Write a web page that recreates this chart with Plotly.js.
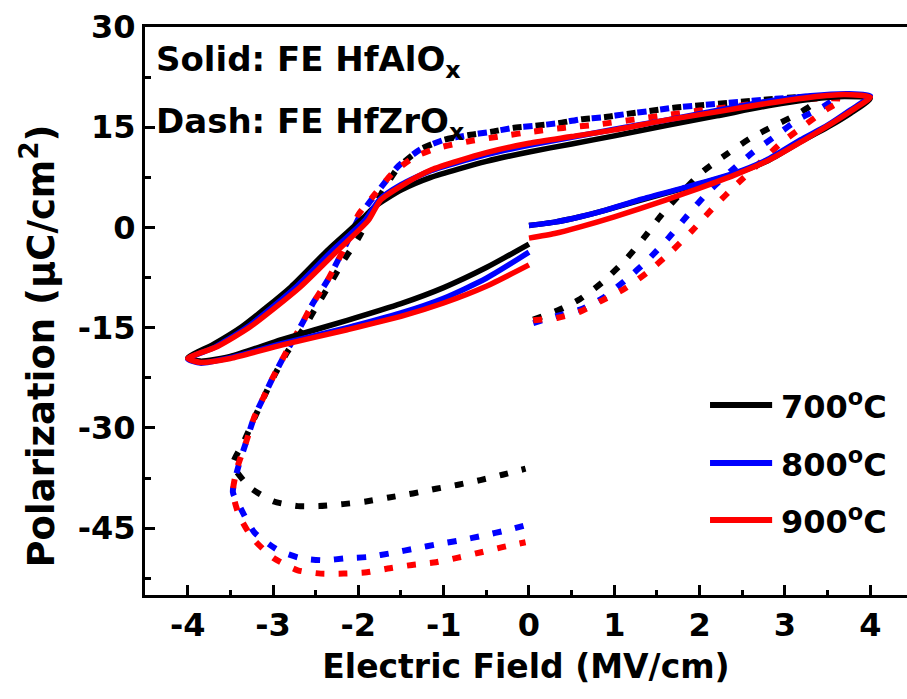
<!DOCTYPE html>
<html>
<head>
<meta charset="utf-8">
<script src="https://cdn.plot.ly/plotly-3.0.1.min.js"></script>
<style>html,body{margin:0;padding:0;background:#fff;}#chart{width:907px;height:699px;}</style>
</head>
<body>
<div id="chart"></div>
<script>
// ---- Data ----
const seriesNames = ["700<sup>o</sup>C", "800<sup>o</sup>C", "900<sup>o</sup>C"];
const seriesColors = ["#000000", "#0000ff", "#ff0000"];

// Solid: FE HfAlOx
const E_solid_700 = [0,0.3,0.6,0.9,1.28,1.8,2.4,2.8,3.18,3.5,3.77,4.0,3.7,3.3,2.8,2.2,1.62,1.0,0.5,0,-0.5,-1.15,-1.5,-1.8,-1.97,-2.36,-2.79,-3.37,-3.7,-4.0,-3.85,-3.5,-2.9,-2.13,-1.5,-1.0,-0.5,0];
const P_solid_700 = [0.3,0.8,1.6,2.6,4.0,5.8,8.0,10.0,12.8,15.0,17.1,19.3,19.6,19.2,18.2,16.7,15.3,13.7,12.5,11.3,9.9,7.5,5.6,3.2,1.1,-3.4,-8.9,-14.9,-17.5,-19.5,-20.0,-19.3,-16.8,-13.9,-11.4,-9.0,-6.0,-2.5];

const E_solid_800 = [0,0.3,0.6,0.9,1.28,1.8,2.4,2.8,3.18,3.5,3.77,4.0,3.75,3.3,2.8,2.2,1.62,1.0,0.5,0,-0.5,-1.15,-1.5,-1.75,-1.92,-2.3,-2.73,-3.3,-3.68,-4.0,-3.85,-3.5,-2.9,-2.13,-1.5,-1.0,-0.5,0];
const P_solid_800 = [0.3,0.8,1.6,2.6,4.1,5.9,8.1,10.2,13.1,15.3,17.6,19.7,20.0,19.7,18.9,17.5,16.1,14.7,13.5,12.3,10.9,8.5,6.4,4.2,1.1,-3.4,-8.9,-14.9,-17.9,-19.7,-20.3,-19.5,-17.4,-15.0,-12.8,-10.6,-7.6,-3.7];

const E_solid_900 = [0,0.3,0.6,1.0,1.6,2.0,2.4,2.8,3.2,3.5,3.77,4.0,3.7,3.3,2.8,2.2,1.62,1.0,0.5,0,-0.5,-1.15,-1.5,-1.74,-1.88,-2.24,-2.68,-3.27,-3.65,-4.0,-3.85,-3.5,-2.9,-2.13,-1.5,-1.0,-0.5,0];
const P_solid_900 = [-1.6,-0.9,0.1,1.6,4.1,5.9,7.8,10.0,12.9,15.2,17.4,19.5,19.9,19.5,18.6,17.3,16.1,14.6,13.6,12.6,11.2,8.6,6.2,4.1,1.1,-3.4,-8.9,-14.9,-17.8,-19.6,-20.2,-19.6,-17.6,-15.3,-13.3,-11.3,-8.8,-5.6];

// Dash: FE HfZrOx
const E_dash_700 = [0.05,0.34,0.6,0.86,1.12,1.35,1.56,1.8,2.04,2.32,2.6,2.87,3.12,3.3,3.4,3.03,2.75,2.48,2.21,1.93,1.68,1.4,1.15,0.88,0.61,0.34,0.06,-0.19,-0.45,-0.72,-1.0,-1.27,-1.53,-1.72,-1.86,-2.0,-2.17,-2.32,-2.48,-2.64,-2.83,-2.97,-3.1,-3.22,-3.35,-3.47,-3.26,-2.99,-2.71,-2.46,-2.18,-1.91,-1.64,-1.36,-1.09,-0.83,-0.57,-0.31,-0.04];
const P_dash_700 = [-13.8,-12.4,-10.7,-8.2,-5.0,-1.5,2.0,5.4,8.4,11.0,13.4,15.2,16.8,18.2,19.5,19.4,19.1,18.8,18.5,18.2,17.9,17.4,17.0,16.5,16.2,15.6,15.2,14.9,14.3,13.8,13.1,11.7,9.0,5.3,1.8,-1.6,-4.9,-8.2,-11.6,-15.1,-18.6,-21.8,-25.2,-28.6,-32.3,-35.5,-39.0,-41.0,-41.7,-41.7,-41.4,-41.0,-40.4,-39.8,-39.1,-38.5,-37.8,-37.0,-36.1];

const E_dash_800 = [0.05,0.34,0.6,0.86,1.13,1.39,1.64,1.87,2.1,2.37,2.63,2.9,3.16,3.44,3.6,3.3,3.03,2.75,2.48,2.21,1.93,1.68,1.4,1.15,0.88,0.61,0.34,0.06,-0.18,-0.45,-0.72,-1.0,-1.27,-1.53,-1.74,-1.97,-2.12,-2.36,-2.53,-2.68,-2.83,-3.0,-3.11,-3.22,-3.32,-3.4,-3.47,-3.38,-3.22,-2.94,-2.67,-2.4,-2.14,-1.88,-1.6,-1.32,-1.07,-0.8,-0.53,-0.26,-0.02];
const P_dash_800 = [-14.3,-13.2,-12.3,-10.6,-7.9,-4.9,-1.5,2.0,5.3,8.5,11.3,13.8,16.2,18.0,19.5,19.6,19.4,19.1,18.8,18.5,18.2,17.9,17.4,17.0,16.5,16.2,15.6,15.2,14.9,14.3,13.8,13.1,11.7,9.2,5.9,2.0,-1.9,-7.9,-11.3,-14.9,-18.3,-22.4,-25.4,-28.4,-32.3,-35.5,-39.6,-42.0,-45.6,-48.3,-49.5,-49.8,-49.5,-49.3,-48.7,-48.0,-47.4,-46.8,-46.1,-45.3,-44.5];

const E_dash_900 = [0.05,0.34,0.6,0.86,1.13,1.39,1.66,1.91,2.17,2.42,2.7,2.95,3.22,3.48,3.68,3.4,3.0,2.68,2.4,2.0,1.6,1.2,0.8,0.4,0.02,-0.3,-0.7,-1.07,-1.35,-1.6,-1.83,-2.0,-2.12,-2.36,-2.53,-2.68,-2.83,-3.0,-3.11,-3.22,-3.32,-3.42,-3.47,-3.4,-3.24,-2.99,-2.71,-2.44,-2.17,-1.9,-1.63,-1.37,-1.09,-0.83,-0.56,-0.3,-0.04];
const P_dash_900 = [-13.9,-13.5,-12.6,-10.9,-9.1,-6.7,-3.7,-0.5,3.1,6.3,9.6,12.6,15.2,17.6,19.2,19.3,18.9,18.6,18.1,17.5,16.8,16.1,15.4,14.9,14.3,13.7,12.9,11.9,10.5,8.1,4.6,1.9,-1.9,-7.9,-11.3,-14.9,-18.3,-22.4,-25.4,-28.4,-32.3,-36.0,-39.6,-43.0,-46.5,-49.5,-51.3,-51.8,-51.8,-51.6,-51.0,-50.5,-50.1,-49.4,-48.6,-47.8,-47.1];

// Axis ticks
const xTickVals = [-4,-3,-2,-1,0,1,2,3,4];
const xTickText = ["-4","-3","-2","-1","0","1","2","3","4"];
const xMinorVals = [-4.5,-3.5,-2.5,-1.5,-0.5,0.5,1.5,2.5,3.5];
const yTickVals = [-45,-30,-15,0,15,30];
const yTickText = ["-45","-30","-15","0","15","30"];
const yMinorVals = [-52.5,-37.5,-22.5,-7.5,7.5,22.5];

const xTitle = "Electric Field (MV/cm)";
const yTitle = "Polarization (μC/cm<sup>2</sup>)";
const noteLines = ["Solid: FE HfAlO<sub>x</sub>", "Dash: FE HfZrO<sub>x</sub>"];

// ---- Build traces ----
const FONT = "DejaVu Sans";
const dashE = [E_dash_700, E_dash_800, E_dash_900];
const dashP = [P_dash_700, P_dash_800, P_dash_900];
const solidE = [E_solid_700, E_solid_800, E_solid_900];
const solidP = [P_solid_700, P_solid_800, P_solid_900];

const traces = [];
for (let i = 0; i < 3; i++) {
  traces.push({
    x: dashE[i], y: dashP[i], type: "scatter", mode: "lines",
    name: seriesNames[i] + " HfZrO", showlegend: false, hoverinfo: "skip",
    line: {color: seriesColors[i], width: 6, dash: "9px,14px", shape: "spline", smoothing: 0.6}
  });
}
for (let i = 0; i < 3; i++) {
  traces.push({
    x: solidE[i], y: solidP[i], type: "scatter", mode: "lines",
    name: seriesNames[i], showlegend: false, hoverinfo: "skip",
    line: {color: seriesColors[i], width: 5.5, shape: "spline", smoothing: 0.6}
  });
}

// ---- Manual legend (long line samples as in the reference) ----
const legendY = [0.3345, 0.2324, 0.132];
const shapes = [];
const annotations = [];
for (let i = 0; i < 3; i++) {
  shapes.push({type: "line", xref: "paper", yref: "paper",
    x0: 0.7415, x1: 0.823, y0: legendY[i], y1: legendY[i],
    line: {color: seriesColors[i], width: 6}});
  annotations.push({xref: "paper", yref: "paper", x: 0.832, y: legendY[i],
    xanchor: "left", yanchor: "middle", showarrow: false, text: seriesNames[i],
    font: {family: FONT, size: 32, color: "#000", weight: "bold"}});
}
annotations.push({xref: "paper", yref: "paper", x: 0.012, y: 0.94, xanchor: "left", yanchor: "middle",
  showarrow: false, text: noteLines[0], font: {family: FONT, size: 34, color: "#000", weight: "bold"}});
annotations.push({xref: "paper", yref: "paper", x: 0.012, y: 0.83, xanchor: "left", yanchor: "middle",
  showarrow: false, text: noteLines[1], font: {family: FONT, size: 34, color: "#000", weight: "bold"}});
// y-axis title placed as in the reference (centred slightly below the plot middle)
annotations.push({xref: "paper", yref: "paper", x: -0.14, y: 0.438, xanchor: "center", yanchor: "middle",
  textangle: -90, showarrow: false, text: yTitle, font: {family: FONT, size: 37, color: "#000", weight: "bold"}});

const tickFont = {family: FONT, size: 32, color: "#000", weight: "bold"};

const layout = {
  width: 907, height: 699,
  margin: {l: 145, r: 0, t: 27, b: 104, pad: 0},
  paper_bgcolor: "#fff", plot_bgcolor: "#fff",
  showlegend: false,
  xaxis: {
    range: [-4.5, 4.43], autorange: false, automargin: false,
    tickmode: "array", tickvals: xTickVals, ticktext: xTickText,
    ticks: "inside", ticklen: 10, tickwidth: 3, tickcolor: "#000",
    showline: true, linewidth: 3, linecolor: "#000", mirror: true,
    showgrid: false, zeroline: false,
    tickfont: tickFont,
    minor: {tickmode: "array", tickvals: xMinorVals, ticks: "inside", ticklen: 5, tickwidth: 3, tickcolor: "#000", showgrid: false},
    title: {text: xTitle, font: {family: FONT, size: 33, color: "#000", weight: "bold"}, standoff: 12}
  },
  yaxis: {
    range: [-55, 30], autorange: false, automargin: false,
    tickmode: "array", tickvals: yTickVals, ticktext: yTickText,
    ticks: "inside", ticklen: 10, tickwidth: 3, tickcolor: "#000",
    showline: true, linewidth: 3, linecolor: "#000", mirror: false,
    showgrid: false, zeroline: false,
    tickfont: tickFont,
    minor: {tickmode: "array", tickvals: yMinorVals, ticks: "inside", ticklen: 6, tickwidth: 3, tickcolor: "#000", showgrid: false}
  },
  shapes: shapes,
  annotations: annotations
};

Plotly.newPlot("chart", traces, layout, {staticPlot: true, displayModeBar: false});
</script>
</body>
</html>
